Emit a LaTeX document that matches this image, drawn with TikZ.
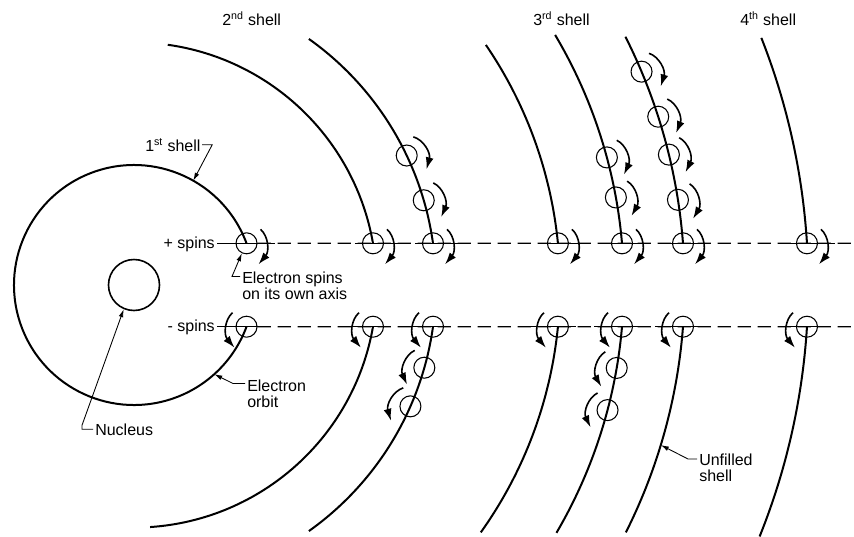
\documentclass[tikz,border=0pt]{standalone}
\usepackage{fontspec}
\setmainfont{Liberation Sans}
\usepackage{tikz}
\usetikzlibrary{calc,arrows.meta}

\begin{document}
\begin{tikzpicture}[x=0.75pt,y=0.75pt,yscale=-1,xscale=1,
  font=\fontsize{12}{12}\selectfont,
  shell/.style={line width=1.5pt},
  elec/.style={circle,draw,line width=0.8pt,minimum size=15.75pt,inner sep=0pt},
  nucleus/.style={circle,draw,line width=1.2pt,minimum size=38.25pt,inner sep=0pt},
  axis/.style={line width=0.9pt,dash pattern=on 10pt off 5pt},
  tick/.style={line width=0.9pt},
  spin/.style={line width=1.2pt,-{Latex[length=9pt,width=6pt]}},
  lead/.style={line width=0.65pt,-{Latex[length=6pt,width=3.5pt]}},
  lbl/.style={inner sep=0pt,align=left}]
%set diagram left start at 0, and has height of 536
\useasboundingbox (0,0) rectangle (854,536);

%Shape: Circle [nucleus]
\coordinate (O) at (134,285);
\node[nucleus] (nuc) at (O) {};

%Shape: Arc [1st shell]
\pgfmathsetmacro\ang{asin(41.7/120)}
\pgfmathsetmacro\angb{\ang-360}
\node[elec] (p0) at ($(O)+(-\ang:120)$) {};
\node[elec] (m0) at ($(O)+(\ang:120)$) {};
\draw[shell] (p0.center) arc[start angle=-\ang, end angle=\angb, radius=120];

%Shape: Arc [outer shells, upper and lower halves]
\foreach \n/\ra/\up/\dn in {1/242.6/82/86.2, 2/301.9/54.6/54.6, 3/426/34.3/35.5, 4/489.8/30.7/30.4, 5/550.6/26.8/26.7, 6/674.3/21.5/21.9}{
  \pgfmathsetmacro\ang{asin(41.7/\ra)}
  \node[elec] (p\n) at ($(O)+(-\ang:\ra)$) {};
  \node[elec] (m\n) at ($(O)+(\ang:\ra)$) {};
  \draw[shell] (p\n.center) arc[start angle=-\ang, end angle=-\up, radius=\ra];
  \draw[shell] (m\n.center) arc[start angle=\ang, end angle=\dn, radius=\ra];
}

%Straight Lines [spin axes]
\coordinate (pend) at (854,243.3);
\coordinate (mend) at (854,326.7);
\draw[axis] (p0) -- (pend);
\draw[axis] (m0) -- (mend);

%Shape: Arc [spins of the electrons on the axes]
\foreach \n in {0,...,6}{
  \draw[tick] ($(p\n)+(-18,0)$) -- ($(p\n)+(28,0)$);
  \draw[tick] ($(m\n)+(-28,0)$) -- ($(m\n)+(18,0)$);
  \draw[spin, shift={(p\n.center)}] (14,-14) .. controls (22,-7) and (23,8) .. (12,21);
  \draw[spin, shift={(m\n.center)}] (-14,-14) .. controls (-22,-7) and (-23,8) .. (-12,21);
}

%Shape: Circle [electrons along the shells]
\foreach \e/\ra/\ang in {ub1/301.9/-25.4, ub2/301.9/-16.3, ud1/489.8/-15.1, ud2/489.8/-10.3, ue1/550.6/-22.8, ue2/550.6/-17.8, ue3/550.6/-13.7, ue4/550.6/-8.9}{
  \node[elec] (\e) at ($(O)+(\ang:\ra)$) {};
  \draw[spin, shift={(\e.center)}, rotate=\ang] (14,-14) .. controls (22,-7) and (23,8) .. (12,21);
}
\foreach \e/\ra/\ang in {db1/301.9/15.9, db2/301.9/23.7, dd1/489.8/9.75, dd2/489.8/14.8}{
  \node[elec] (\e) at ($(O)+(\ang:\ra)$) {};
  \draw[spin, shift={(\e.center)}, rotate=\ang] (-14,-14) .. controls (-22,-7) and (-23,8) .. (-12,21);
}

% Text Node
\node[lbl, anchor=base west] (s2) at (222,25.5) {2\textsuperscript{nd} shell};
% Text Node
\node[lbl, anchor=base west] (s3) at (533,25.5) {3\textsuperscript{rd} shell};
% Text Node
\node[lbl, anchor=base west] (s4) at (740,25.5) {4\textsuperscript{th} shell};
% Text Node
\node[lbl, anchor=base west] (s1) at (145,151) {1\textsuperscript{st} shell};
% Text Node
\node[lbl, anchor=east] (pl) at (215,244.3) {+ spins};
% Text Node
\node[lbl, anchor=east] (ml) at (215,327.7) {- spins};
% Text Node
\node[lbl, anchor=north west] (el) at (242,271.5) {Electron spins\\on its own axis};
% Text Node
\node[lbl, anchor=north west] (eo) at (247,379.5) {Electron\\orbit};
% Text Node
\node[lbl, anchor=base west] (nl) at (95,435) {Nucleus};
% Text Node
\node[lbl, anchor=north west] (uf) at (699,454) {Unfilled\\shell};

%Straight Lines [pointers]
\coordinate (t1) at ($(O)+(-60.4:120)$);
\coordinate (t2) at ($(O)+(48:120)$);
\coordinate (t3) at ($(O)+(16.9:550.6)$);
\draw[lead] ($(s1.east)+(1.5,0)$) -- ++(10,0) -- (t1);
\draw[tick] ($(pl.east |- p0)+(2,0)$) -- (p0);
\draw[tick] ($(ml.east |- m0)+(2,0)$) -- (m0);
\draw[lead] ($(el.north west)+(-2,5)$) -- ++(-8,0) -- (p0.245);
\draw[lead] ($(eo.north west)+(-2,4)$) -- ++(-12,0) -- (t2);
\draw[lead] ($(nl.west)+(-2,0)$) -- ++(-11,0) -- ++(0,-4) -- (nuc.247);
\draw[lead] ($(uf.north west)+(-2,5)$) -- ++(-9,0) -- (t3);

\end{tikzpicture}
\end{document}
